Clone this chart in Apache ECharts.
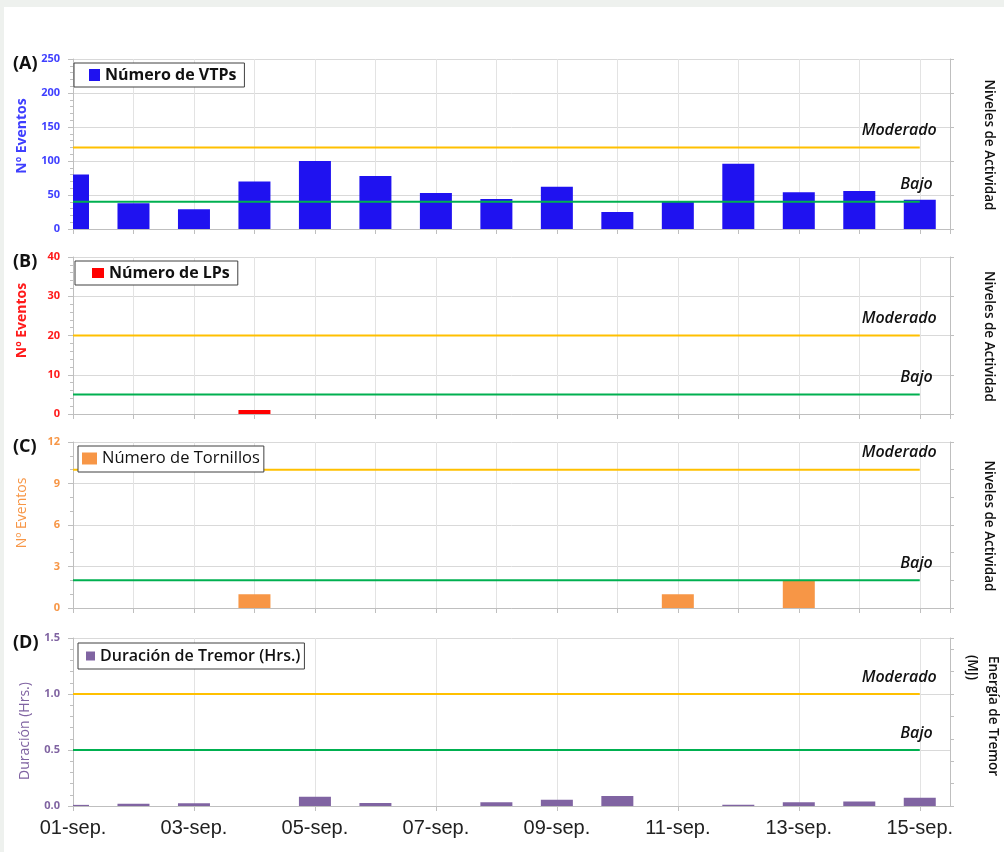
<!DOCTYPE html>
<html lang="es">
<head>
<meta charset="UTF-8" />
<title>Actividad sísmica</title>
<style>
  body { margin: 0; background: #eef1ee; }
  #main { position: absolute; left: 4px; top: 7px; width: 1000px; height: 845px; background: #fff; }
</style>
</head>
<body>
<div id="main"></div>
<script src="https://cdn.jsdelivr.net/npm/echarts@6/dist/echarts.min.js"></script>
<script>
var days = ['01-sep.', '02-sep.', '03-sep.', '04-sep.', '05-sep.', '06-sep.', '07-sep.', '08-sep.',
  '09-sep.', '10-sep.', '11-sep.', '12-sep.', '13-sep.', '14-sep.', '15-sep.'];
var vtp = [80, 38, 29, 70, 100, 78, 53, 44, 62, 25, 40, 96, 54, 56, 43];
var lp = [0, 0, 0, 1, 0, 0, 0, 0, 0, 0, 0, 0, 0, 0, 0];
var tornillos = [0, 0, 0, 1, 0, 0, 0, 0, 0, 0, 1, 0, 2, 0, 0];
var tremor = [0.01, 0.02, 0.025, 0, 0.083, 0.027, 0, 0.033, 0.056, 0.09, 0, 0.012, 0.033, 0.04, 0.074];
var moderado = [120, 20, 10, 1.0];
var bajo = [40, 5, 2, 0.5];
var seriesNames = ['Número de VTPs', 'Número de LPs', 'Número de Tornillos', 'Duración de Tremor (Hrs.)'];

var font = '"Open Sans", "Noto Sans", sans-serif';
var panels = [
  { letter: '(A)', data: vtp, color: '#1f12f0', label: '#3f3fff', yName: 'Nº Eventos', bold: true, max: 250, step: 50, minor: 5, rMax: 5,
    top: 52, height: 170, nameGap: 44, namePad: [0, 0, 0, 16],
    legend: { left: 70, top: 56, w: 11, h: 12, size: 16, weight: 'bold', pad: [4, 8, 4, 15] } },
  { letter: '(B)', data: lp, color: '#ff0000', label: '#ff1a1a', yName: 'Nº Eventos', bold: true, max: 40, step: 10, minor: 5, rMax: 4,
    top: 250, height: 157, nameGap: 44, namePad: [0, 0, 0, 30],
    legend: { left: 71, top: 254, w: 12, h: 10, size: 16, weight: 'bold', pad: [4, 8, 4, 17] } },
  { letter: '(C)', data: tornillos, color: '#f79646', label: '#f79646', yName: 'Nº Eventos', bold: false, max: 12, step: 3, minor: 3, rMax: 6,
    top: 435, height: 166, nameGap: 44, namePad: [0, 0, 0, 24],
    legend: { left: 74, top: 439, w: 15, h: 12, size: 16.5, weight: 'normal', pad: [4, 4, 5, 4] } },
  { letter: '(D)', data: tremor, color: '#8064a2', label: '#8064a2', yName: 'Duración (Hrs.)', bold: false, max: 1.5, step: 0.5, minor: 5, rMax: 7.5,
    top: 631, height: 168, nameGap: 41, namePad: [0, 18, 0, 0],
    legend: { left: 74, top: 636, w: 9, h: 9, size: 16, weight: 600, pad: [5, 4, 5, 8] } }
];

var chart = echarts.init(document.getElementById('main'));
var grids = [], xAxes = [], yAxes = [], series = [], legends = [], graphics = [];
var evenDays = days.map(function (d, i) { return i; }).filter(function (i) { return i % 2 === 0; });
var gray = '#bfbfbf';
var barWidth = 32;

// bars drawn as custom rects so the first day is clipped at the plot edge
function renderBar(params, api) {
  var x = api.value(0), v = api.value(1);
  var top = api.coord([x, v]);
  var base = api.coord([x, 0]);
  return {
    type: 'rect',
    shape: { x: top[0] - barWidth / 2, y: top[1], width: barWidth, height: base[1] - top[1] },
    style: api.style()
  };
}

panels.forEach(function (p, k) {
  var last = k === panels.length - 1;
  grids.push({ left: 69, right: 54, top: p.top, height: p.height });

  xAxes.push({
    type: 'value', gridIndex: k, min: 0, max: days.length - 0.5, interval: 1,
    axisLine: { show: true, onZero: false, lineStyle: { color: gray } },
    axisTick: { show: true, length: 5, lineStyle: { color: gray }, customValues: last ? evenDays : undefined },
    axisLabel: {
      show: last, margin: 12, fontSize: 20, fontFamily: '"Liberation Sans", Arial, sans-serif', color: '#222',
      customValues: last ? evenDays : undefined,
      formatter: function (v) { return days[v] || ''; }
    },
    splitLine: { show: true, lineStyle: { color: '#e3e3e3' } }
  });

  yAxes.push({
    type: 'value', gridIndex: k, position: 'left', min: 0, max: p.max, interval: p.step,
    name: p.yName, nameLocation: 'middle', nameGap: p.nameGap, nameRotate: 90,
    nameTextStyle: { color: p.label, fontWeight: p.bold ? 'bold' : 'normal', fontSize: 14, fontFamily: font, padding: p.namePad },
    axisLine: { show: true, lineStyle: { color: gray } },
    axisTick: { show: true, length: 5, lineStyle: { color: gray } },
    minorTick: { show: true, splitNumber: p.minor, length: 3, lineStyle: { color: gray } },
    axisLabel: {
      color: p.label, fontWeight: 'bold', fontSize: 11, margin: 13, fontFamily: font,
      formatter: function (v) { return last ? v.toFixed(1) : v; }
    },
    splitLine: { lineStyle: { color: '#d9d9d9' } }
  });

  legends.push({
    left: p.legend.left, top: p.legend.top, data: [seriesNames[k]], selectedMode: false,
    icon: 'rect', itemWidth: p.legend.w, itemHeight: p.legend.h, itemGap: 0,
    padding: p.legend.pad, borderColor: '#404040', borderWidth: 1, backgroundColor: '#fff',
    textStyle: { fontSize: p.legend.size, fontWeight: p.legend.weight, fontFamily: font, color: '#111' }
  });

  series.push({
    type: 'custom', name: seriesNames[k], xAxisIndex: k, yAxisIndex: k, clip: true,
    renderItem: renderBar,
    itemStyle: { color: p.color },
    encode: { x: 0, y: 1 },
    data: p.data.map(function (v, i) { return [i, v]; })
  });

  [[moderado[k], '#ffc000', 'Moderado', 17], [bajo[k], '#00b050', 'Bajo', 13]].forEach(function (t) {
    series.push({
      type: 'line', xAxisIndex: k, yAxisIndex: k, symbol: 'none', silent: true,
      lineStyle: { color: t[1], width: 2 },
      data: [[0, t[0]], [days.length - 1, t[0]]],
      endLabel: {
        show: true, formatter: t[2], align: 'right', verticalAlign: 'bottom', distance: t[3],
        fontSize: 16, fontStyle: 'italic', fontWeight: 600, fontFamily: font, color: '#111', lineHeight: 34
      }
    });
  });

  graphics.push({
    type: 'text', x: 9, y: p.top + 5,
    style: { text: p.letter, font: 'bold 18px ' + font, fill: '#111', textVerticalAlign: 'middle' }
  });
});

// right side axes (level scale, no labels)
panels.forEach(function (p, k) {
  yAxes.push({
    type: 'value', gridIndex: k, position: 'right', min: 0, max: p.rMax, interval: 1,
    axisLine: { show: true, lineStyle: { color: gray } },
    axisTick: { show: true, length: 4, lineStyle: { color: gray } },
    axisLabel: { show: false }, splitLine: { show: false }
  });
});

[0, 1, 2].forEach(function (k) {
  graphics.push({
    type: 'text', x: 985, y: panels[k].top + panels[k].height / 2 + 1, rotation: -Math.PI / 2,
    style: { text: 'Niveles de Actividad', font: '600 13.5px ' + font, fill: '#111', textAlign: 'center', textVerticalAlign: 'middle' }
  });
});
graphics.push({
  type: 'text', x: 989, y: 649, rotation: -Math.PI / 2,
  style: { text: 'Energía de Tremor', font: '600 13.5px ' + font, fill: '#111', textAlign: 'left', textVerticalAlign: 'middle' }
});
graphics.push({
  type: 'text', x: 968, y: 648, rotation: -Math.PI / 2,
  style: { text: '(MJ)', font: '600 13.5px ' + font, fill: '#111', textAlign: 'left', textVerticalAlign: 'middle' }
});

chart.setOption({
  animation: false,
  grid: grids,
  xAxis: xAxes,
  yAxis: yAxes,
  legend: legends,
  series: series,
  graphic: graphics
});
</script>
</body>
</html>
